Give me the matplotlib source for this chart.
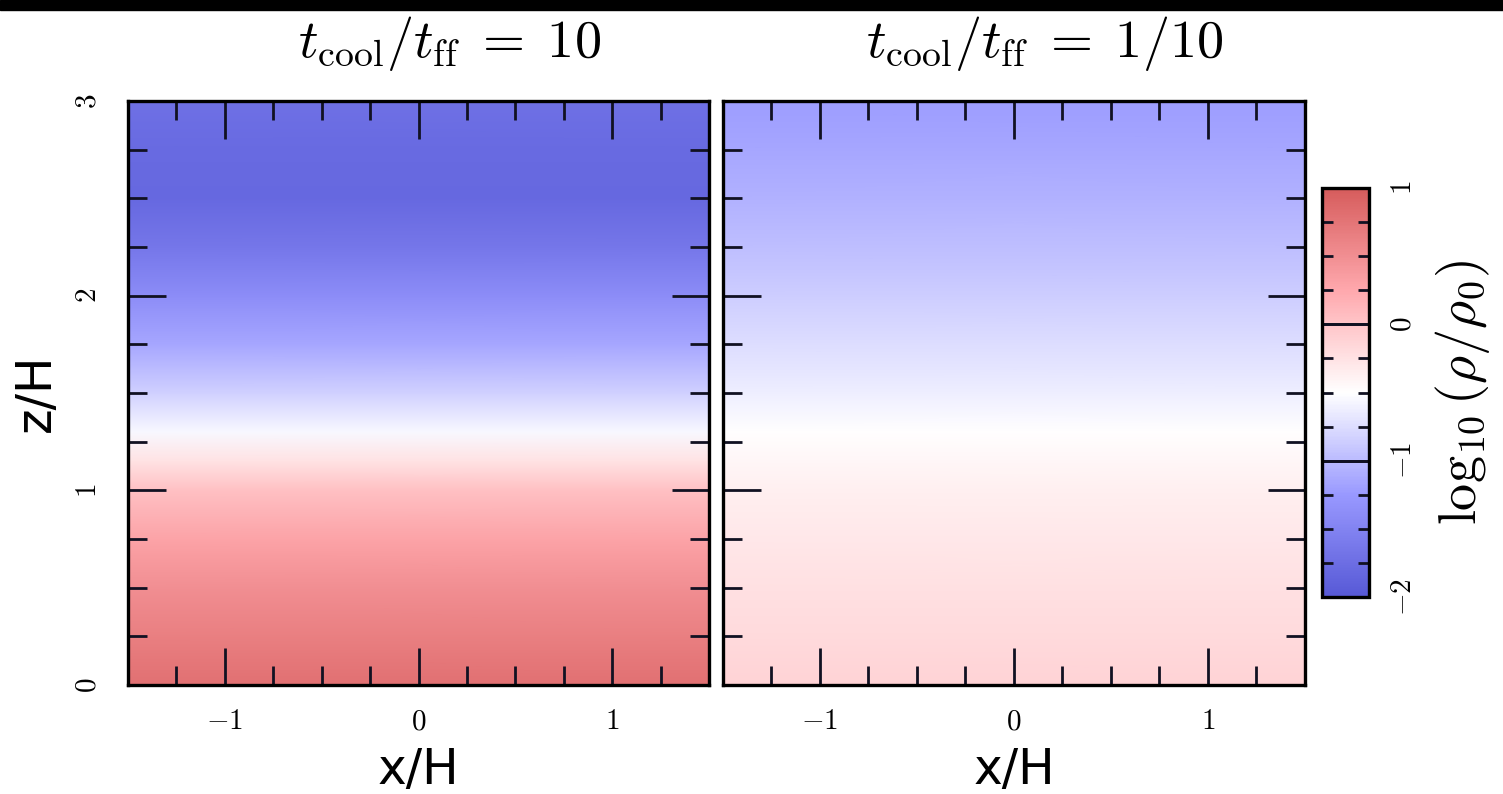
import numpy as np
import matplotlib
matplotlib.use("Agg")
import matplotlib.pyplot as plt
from matplotlib.colors import LinearSegmentedColormap
from matplotlib.patches import Rectangle
from matplotlib.ticker import MultipleLocator

plt.rcParams['mathtext.fontset'] = 'cm'

# vertical profile of log10(rho/rho0)
z_levels = [0.0, 0.25, 0.5, 0.75, 1.0, 1.15, 1.3, 1.5, 1.75, 2.0, 2.25, 2.5, 2.75, 3.0]
rho_slow = [0.80, 0.65, 0.50, 0.30, 0.05, -0.25, -0.55, -0.85, -1.15, -1.40, -1.65, -1.82, -1.80, -1.72]
rho_fast = [-0.12, -0.18, -0.24, -0.30, -0.36, -0.42, -0.50, -0.62, -0.75, -0.87, -0.97, -1.07, -1.15, -1.22]
x_edges = [-1.5, 1.5]

titles = [r'$t_{\rm cool}/t_{\rm ff}\;=\;10$', r'$t_{\rm cool}/t_{\rm ff}\;=\;1/10$']
profiles = [rho_slow, rho_fast]
vmin, vmax = -2, 1

cmap = LinearSegmentedColormap.from_list('bwr_soft', [
    (0.0, (0.34, 0.35, 0.84)),
    (0.25, (0.60, 0.60, 1.00)),
    (0.5, (1.00, 1.00, 1.00)),
    (0.75, (1.00, 0.66, 0.68)),
    (1.0, (0.84, 0.36, 0.36)),
])

fig = plt.figure(figsize=(15.03, 7.94), dpi=100)
fig.patches.append(Rectangle((0, 0.987), 1, 0.013, transform=fig.transFigure,
                             color='black', zorder=10))

ax_pos = [[0.0852, 0.1373, 0.3866, 0.7355], [0.481, 0.1373, 0.3872, 0.7355]]
for i, prof in enumerate(profiles):
    ax = fig.add_axes(ax_pos[i])
    X, Z = np.meshgrid(x_edges, z_levels)
    C = np.tile(np.array(prof)[:, None], (1, len(x_edges)))
    mesh = ax.pcolormesh(X, Z, C, cmap=cmap, vmin=vmin, vmax=vmax, shading='gouraud')
    ax.set_xlim(-1.5, 1.5)
    ax.set_ylim(0, 3)
    ax.xaxis.set_major_locator(MultipleLocator(1))
    ax.xaxis.set_minor_locator(MultipleLocator(0.25))
    ax.yaxis.set_major_locator(MultipleLocator(1))
    ax.yaxis.set_minor_locator(MultipleLocator(0.25))
    ax.tick_params(which='both', direction='in', top=True, right=True, width=2, color='#111122')
    ax.tick_params(which='major', length=27, labelsize=21)
    ax.tick_params(which='minor', length=14)
    ax.tick_params(axis='x', which='major', pad=16)
    ax.tick_params(axis='y', which='major', pad=19)
    for sp in ax.spines.values():
        sp.set_linewidth(2.4)
    ax.set_title(titles[i], fontsize=39, pad=32, x=0.553)
    ax.set_xlabel('x/H', fontsize=35, labelpad=8)
    ax.set_xticks([-1, 0, 1])
    ax.set_xticklabels([r'$-1$', r'$0$', r'$1$'])
    if i == 0:
        ax.set_ylabel('z/H', fontsize=35, labelpad=10)
        ax.set_yticks([0, 1, 2, 3])
        ax.set_yticklabels([r'$0$', r'$1$', r'$2$', r'$3$'], rotation=90, va='center')
    else:
        ax.set_yticklabels([])

cax = fig.add_axes([0.8796, 0.2481, 0.0313, 0.515])
cb = fig.colorbar(mesh, cax=cax)
cb.outline.set_linewidth(2.4)
cb.set_ticks([-2, -1, 0, 1])
cb.set_ticklabels([r'$-2$', r'$-1$', r'$0$', r'$1$'])
cax.yaxis.set_minor_locator(MultipleLocator(0.25))
cax.tick_params(which='both', direction='in', left=True, right=True, width=2, color='#111122')
cax.tick_params(which='major', length=34, labelsize=21, pad=14)
cax.tick_params(which='minor', length=8)
for lab in cax.get_yticklabels():
    lab.set_rotation(90)
    lab.set_va('center')
cb.set_label(r'$\log_{10}(\rho/\rho_0)$', fontsize=39, labelpad=12)

fig.savefig('out.png', dpi=100, facecolor='white')
